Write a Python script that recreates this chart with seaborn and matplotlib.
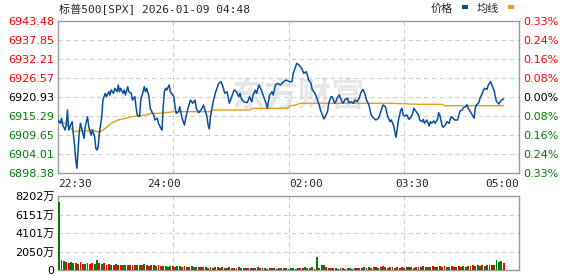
import matplotlib
matplotlib.use("Agg")
import matplotlib.pyplot as plt
import seaborn as sns
import pandas as pd
from matplotlib.patches import Rectangle

# ---------------- data ----------------
title_text = "标普500[SPX] 2026-01-09 04:48"
legend_labels = ["价格", "均线"]
prev_close = 6920.93
price_ticks = [6898.38, 6904.01, 6909.65, 6915.29, 6920.93, 6926.57, 6932.21, 6937.85, 6943.48]
pct_labels = ["0.33%", "0.24%", "0.16%", "0.08%", "0.00%", "0.08%", "0.16%", "0.24%", "0.33%"]
time_labels = ["22:30", "24:00", "02:00", "03:30", "05:00"]
time_label_minutes = [0, 90, 210, 300, 390]
session_minutes = 390

price_minutes = [
    0, 2, 3, 4, 6, 7, 8, 9, 10, 12,
    13, 14, 15, 16, 17, 18, 19, 21, 22, 23,
    25, 26, 28, 29, 31, 32, 33, 34, 35, 37,
    38, 40, 41, 43, 44, 45, 47, 48, 50, 51,
    52, 53, 55, 56, 57, 59, 60, 62, 63, 65,
    66, 67, 69, 70, 72, 73, 74, 75, 77, 78,
    80, 81, 82, 84, 85, 87, 88, 89, 90, 91,
    92, 94, 95, 96, 98, 99, 100, 102, 103, 105,
    107, 108, 109, 110, 112, 114, 116, 117, 119, 122,
    123, 124, 126, 127, 128, 129, 131, 133, 136, 138,
    140, 141, 143, 145, 147, 149, 151, 153, 154, 155,
    157, 160, 161, 162, 164, 165, 167, 168, 170, 172,
    174, 176, 177, 178, 179, 181, 182, 184, 186, 188,
    191, 193, 196, 198, 199, 201, 202, 204, 206, 208,
    210, 211, 212, 214, 215, 217, 218, 219, 221, 222,
    224, 225, 226, 228, 229, 231, 232, 234, 235, 236,
    238, 239, 241, 243, 245, 246, 248, 250, 251, 253,
    255, 256, 258, 260, 261, 263, 264, 265, 267, 269,
    271, 272, 274, 275, 277, 278, 279, 281, 282, 284,
    285, 286, 287, 288, 290, 291, 292, 294, 295, 297,
    298, 300, 301, 303, 305, 306, 308, 309, 310, 312,
    314, 315, 316, 318, 319, 321, 322, 323, 325, 326,
    328, 329, 331, 332, 333, 335, 336, 338, 339, 340,
    342, 343, 345, 346, 347, 349, 350, 352, 353, 354,
    356, 357, 359, 360, 361, 363, 364, 366, 367, 369,
    370, 371, 373, 374, 376, 377,
]
price_values = [
    6914.11, 6913.13, 6914.61, 6912.62, 6911.14, 6912.62, 6917.07, 6911.14, 6912.12, 6913.60,
    6909.66, 6906.69, 6902.24, 6899.78, 6905.20, 6910.63, 6913.13, 6910.16, 6908.68, 6912.12,
    6915.08, 6912.12, 6909.66, 6911.14, 6909.15, 6905.71, 6905.20, 6906.18, 6910.16, 6915.08,
    6920.04, 6922.03, 6921.02, 6922.50, 6921.52, 6923.01, 6922.03, 6923.51, 6922.50, 6924.49,
    6922.50, 6923.51, 6922.03, 6923.01, 6921.52, 6923.99, 6922.50, 6922.03, 6920.04, 6921.02,
    6918.05, 6915.59, 6915.08, 6920.04, 6922.50, 6923.99, 6922.50, 6923.51, 6921.02, 6917.58,
    6916.09, 6915.59, 6914.11, 6914.61, 6913.13, 6911.64, 6911.14, 6918.05, 6922.50, 6923.51,
    6923.01, 6924.49, 6922.50, 6922.03, 6921.02, 6918.05, 6916.09, 6916.57, 6918.05, 6914.61,
    6912.62, 6914.61, 6916.09, 6917.58, 6920.04, 6919.06, 6920.04, 6917.58, 6916.27, 6917.58,
    6918.56, 6917.58, 6915.08, 6912.62, 6911.44, 6915.08, 6919.06, 6922.03, 6924.99, 6925.47,
    6923.51, 6922.03, 6922.50, 6919.06, 6921.02, 6923.01, 6922.50, 6921.02, 6922.03, 6920.54,
    6919.54, 6919.24, 6920.04, 6921.02, 6919.54, 6921.52, 6923.01, 6922.03, 6924.49, 6923.01,
    6921.02, 6919.06, 6917.58, 6919.54, 6921.52, 6922.50, 6921.52, 6924.49, 6924.99, 6924.49,
    6925.47, 6925.97, 6925.47, 6925.47, 6927.96, 6929.92, 6930.93, 6930.42, 6929.45, 6927.96,
    6928.44, 6927.46, 6925.97, 6924.99, 6923.21, 6922.21, 6921.52, 6920.54, 6918.56, 6917.07,
    6915.29, 6914.40, 6915.08, 6916.57, 6919.06, 6921.02, 6921.02, 6919.06, 6919.54, 6920.54,
    6921.52, 6920.54, 6919.06, 6920.25, 6920.54, 6919.24, 6919.54, 6919.06, 6920.04, 6919.54,
    6920.72, 6922.03, 6923.21, 6921.52, 6920.04, 6918.56, 6917.07, 6915.59, 6914.61, 6914.11,
    6914.61, 6915.38, 6917.58, 6918.56, 6918.05, 6916.57, 6915.08, 6913.60, 6914.11, 6912.33,
    6910.63, 6908.97, 6911.64, 6914.11, 6917.07, 6917.58, 6915.59, 6915.29, 6915.59, 6914.31,
    6914.61, 6915.89, 6917.58, 6916.57, 6915.59, 6914.11, 6913.60, 6914.31, 6913.13, 6914.11,
    6912.33, 6913.60, 6913.13, 6913.81, 6913.13, 6914.31, 6916.27, 6915.59, 6912.33, 6911.94,
    6912.83, 6913.60, 6913.13, 6914.61, 6915.08, 6914.31, 6914.11, 6914.11, 6915.29, 6916.78,
    6917.07, 6917.76, 6918.05, 6918.65, 6917.58, 6916.48, 6915.89, 6914.61, 6917.58, 6918.56,
    6919.24, 6920.54, 6922.03, 6923.01, 6923.51, 6923.21, 6924.49, 6925.47, 6924.49, 6922.80,
    6921.02, 6919.54, 6918.85, 6919.54, 6920.25, 6920.34,
]

avg_minutes = [0, 6, 10, 13, 17, 26, 29, 33, 36, 40, 45, 51, 57, 62, 68, 74, 79, 85, 91, 98,
               129, 131, 162, 165, 194, 196, 201, 205, 283, 306, 325, 327, 377]
avg_values = [6913.60, 6913.13, 6912.12, 6910.63, 6910.84, 6910.93, 6911.14, 6910.63, 6910.63,
              6911.64, 6913.13, 6914.11, 6914.61, 6915.08, 6915.29, 6915.59, 6916.09, 6916.09,
              6916.27, 6916.57, 6916.57, 6917.07, 6917.07, 6917.58, 6917.58, 6918.26, 6918.56,
              6919.06, 6919.06, 6918.76, 6918.76, 6918.35, 6918.35]

# volume (万), one bar per 2-minute slot
vol_values = [
    7550, 1150, 1000, 900, 800, 850, 750, 800, 700, 850,
    700, 650, 750, 700, 800, 650, 1150, 800, 700, 750,
    600, 650, 600, 550, 700, 600, 550, 600, 500, 550,
    600, 550, 500, 600, 550, 500, 650, 500, 450, 550,
    500, 450, 500, 400, 450, 400, 350, 450, 400, 350,
    400, 450, 350, 400, 350, 300, 400, 350, 300, 350,
    300, 300, 350, 250, 300, 250, 300, 350, 250, 300,
    250, 200, 300, 250, 200, 250, 300, 200, 250, 200,
    250, 200, 250, 200, 300, 200, 250, 200, 150, 250,
    200, 200, 150, 200, 250, 200, 200, 150, 250, 200,
    150, 250, 200, 200, 300, 250, 200, 350, 150, 1400,
    250, 550, 500, 300, 250, 250, 250, 200, 150, 200,
    200, 150, 200, 200, 150, 200, 200, 250, 200, 300,
    250, 300, 250, 350, 300, 250, 300, 400, 300, 250,
    350, 300, 250, 300, 250, 300, 250, 300, 350, 300,
    250, 300, 350, 300, 400, 300, 350, 300, 400, 350,
    300, 400, 350, 400, 300, 350, 400, 350, 300, 400,
    350, 400, 350, 450, 400, 500, 450, 550, 450, 500,
    450, 550, 500, 600, 550, 1100, 900, 1000, 800,
]
vol_colors = (
    "grgrrggrgr" "rggrrggrgr" "rrgrgrrggr" "grrggrgrrg" "rgrrggrgrr"
    "ggrrgrgrgg" "rrgrggrrgr" "grgrrgrggr" "rggrgrrggr" "grrgrgrrgg"
    "rgrrggrgrg" "rggrrgrgrr" "grrgrgrrgr" "ggrrgrgrrg" "rgrgrrggrg"
    "rrggrgrgrr" "grgrggrrgr" "rggrgrrgrg" "rgrrggggr"
)
vol_ticks = [0, 2050, 4101, 6151, 8202]
vol_tick_labels = ["0", "2050万", "4101万", "6151万", "8202万"]

# ---------------- style ----------------
sns.set_theme(style="white")
plt.rcParams["font.family"] = ["DejaVu Sans", "Noto Sans CJK SC"]

RED = "#ff0000"
GREEN = "#008000"
BLUE = "#0a4f9e"
GOLD = "#e0a216"
SPINE = "#9a9a9a"
GRID = "#cfcfcf"

W, H = 578, 276
fig = plt.figure(figsize=(W / 100, H / 100), dpi=100)
fig.patch.set_facecolor("white")


def fx(px):
    return px / W


def fy(py):
    return 1 - py / H


ax = fig.add_axes([fx(58), fy(173), fx(519) - fx(58), fy(21) - fy(173)])
axv = fig.add_axes([fx(58), fy(270), fx(519) - fx(58), fy(196) - fy(270)])

for a in (ax, axv):
    a.set_facecolor("white")
    for s in a.spines.values():
        s.set_color(SPINE)
        s.set_linewidth(1.0)
    a.tick_params(length=0)

# watermark
ax.text(0.52, 0.50, "东方财富", transform=ax.transAxes, fontsize=24, fontweight="bold",
        color="#e6e6e6", ha="center", va="center", family=["Noto Sans CJK SC"], zorder=0)

# price + average
df_price = pd.DataFrame({"minute": price_minutes, "price": price_values})
df_avg = pd.DataFrame({"minute": avg_minutes, "avg": avg_values})
sns.lineplot(data=df_avg, x="minute", y="avg", ax=ax, color=GOLD, linewidth=1.0,
             estimator=None, sort=False, zorder=3)
sns.lineplot(data=df_price, x="minute", y="price", ax=ax, color=BLUE, linewidth=1.1,
             estimator=None, sort=False, zorder=4)

ax.set_xlim(0, session_minutes)
ax.set_ylim(price_ticks[0], price_ticks[-1])
ax.set_xlabel("")
ax.set_ylabel("")

for t in price_ticks[1:-1]:
    ax.axhline(t, color=GRID, linestyle=(0, (4, 3)), linewidth=0.8, zorder=1)
for q in (1, 2, 3):
    ax.axvline(session_minutes * q / 4, color=GRID, linestyle=(0, (4, 3)), linewidth=0.8, zorder=1)

ax.set_yticks(price_ticks)
ax.set_yticklabels([f"{t:.2f}" for t in price_ticks], fontsize=8)
for t, lab in zip(price_ticks, ax.get_yticklabels()):
    lab.set_color(RED if t > prev_close + 0.01 else (GREEN if t < prev_close - 0.01 else "black"))
ax.tick_params(axis="y", pad=2.5)

axr = ax.twinx()
axr.set_ylim(ax.get_ylim())
axr.set_yticks(price_ticks)
axr.set_yticklabels(pct_labels, fontsize=8)
for t, lab in zip(price_ticks, axr.get_yticklabels()):
    lab.set_color(RED if t > prev_close + 0.01 else (GREEN if t < prev_close - 0.01 else "black"))
axr.tick_params(length=0, pad=3)
for s in axr.spines.values():
    s.set_visible(False)
axr.grid(False)

ax.set_xticks(time_label_minutes)
ax.set_xticklabels(time_labels, fontsize=8, family=["DejaVu Sans Mono"])
ax.tick_params(axis="x", pad=4)
xl = ax.get_xticklabels()
xl[0].set_horizontalalignment("left")
xl[-1].set_horizontalalignment("right")

# volume bars
df_vol = pd.DataFrame({
    "minute": [2 * i + 1 for i in range(len(vol_values))],
    "vol": vol_values,
    "dir": list(vol_colors),
})
sns.barplot(data=df_vol, x="minute", y="vol", hue="dir", palette={"r": RED, "g": GREEN},
            native_scale=True, dodge=False, width=0.8, legend=False, ax=axv,
            linewidth=0, saturation=1, zorder=3)
axv.set_xlim(0, session_minutes)
axv.set_ylim(0, vol_ticks[-1])
axv.set_xlabel("")
axv.set_ylabel("")
axv.set_xticks([])
for t in vol_ticks[1:-1]:
    axv.axhline(t, color=GRID, linestyle=(0, (4, 3)), linewidth=0.8, zorder=1)
for q in (1, 2, 3):
    axv.axvline(session_minutes * q / 4, color=GRID, linestyle=(0, (4, 3)), linewidth=0.8, zorder=1)
axv.set_yticks(vol_ticks)
axv.set_yticklabels(vol_tick_labels, fontsize=8, color="black")
axv.tick_params(axis="y", pad=2.5)

# title & legend
fig.text(fx(59), fy(9), title_text, fontsize=8, ha="left", va="center",
         family=["DejaVu Sans Mono", "Noto Sans CJK SC"])
fig.text(fx(431), fy(9), legend_labels[0], fontsize=8, ha="left", va="center",
         family=["Noto Sans CJK SC"])
fig.add_artist(Rectangle((fx(462), fy(8.5)), fx(6), fy(0) - fy(3), transform=fig.transFigure,
                         color=BLUE, lw=0))
fig.text(fx(477), fy(9), legend_labels[1], fontsize=8, ha="left", va="center",
         family=["Noto Sans CJK SC"])
fig.add_artist(Rectangle((fx(508), fy(8.5)), fx(6), fy(0) - fy(3), transform=fig.transFigure,
                         color=GOLD, lw=0))

fig.savefig("out.png", dpi=100, facecolor="white")
